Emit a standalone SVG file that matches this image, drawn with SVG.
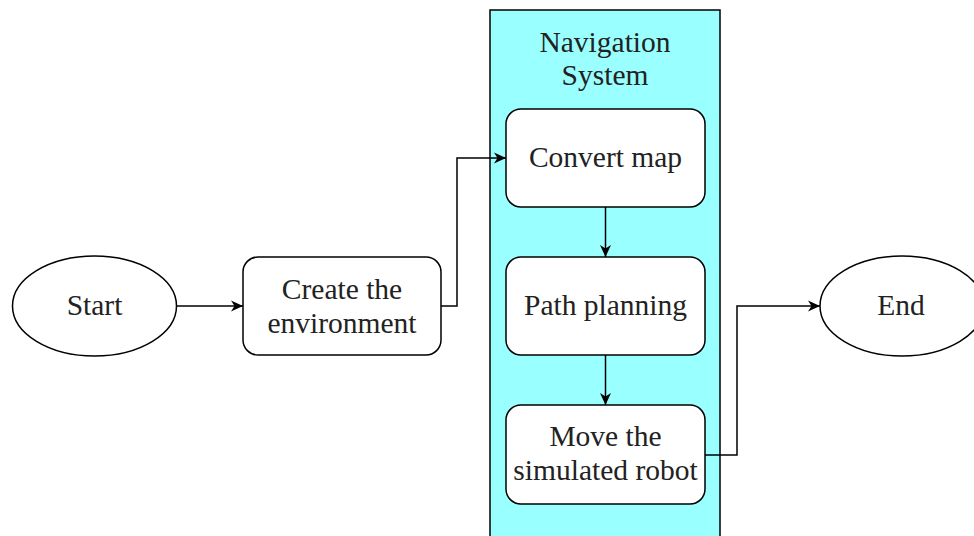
<svg xmlns="http://www.w3.org/2000/svg" width="974" height="536" viewBox="0 0 974 536">
  <defs>
    <marker id="arrow" viewBox="0 0 12 12" refX="12" refY="6" markerWidth="12" markerHeight="12" markerUnits="userSpaceOnUse" orient="auto">
      <path d="M0,0.5 L12,6 L0,11.5 L3.5,6 Z" fill="#000"/>
    </marker>
  </defs>
  <style>
    .box { fill: #fff; stroke: #000; stroke-width: 1.5; }
    .lane { fill: #99ffff; stroke: #000; stroke-width: 1.5; }
    .edge { fill: none; stroke: #000; stroke-width: 1.5; marker-end: url(#arrow); }
  </style>
  <rect width="974" height="536" fill="#fff"/>

  <g font-family="Liberation Serif, Times New Roman, serif" font-size="29.5" fill="#222" text-anchor="middle">
    <g id="navigation-system">
      <rect class="lane" x="490" y="10" width="230" height="530"/>
      <text x="605" y="52">Navigation</text>
      <text x="605" y="85">System</text>
    </g>

    <g id="start">
      <ellipse class="box" cx="94.5" cy="306" rx="82" ry="50"/>
      <text x="94.5" y="315">Start</text>
    </g>

    <g id="create-environment">
      <rect class="box" x="243" y="257" width="198" height="98" rx="15"/>
      <text x="342" y="299">Create the</text>
      <text x="342" y="333">environment</text>
    </g>

    <g id="convert-map">
      <rect class="box" x="506" y="109" width="199" height="98" rx="15"/>
      <text x="605.5" y="167">Convert map</text>
    </g>

    <g id="path-planning">
      <rect class="box" x="506" y="257" width="199" height="98" rx="15"/>
      <text x="605.5" y="315">Path planning</text>
    </g>

    <g id="move-robot">
      <rect class="box" x="506" y="405" width="199" height="99" rx="15"/>
      <text x="605.5" y="446">Move the</text>
      <text x="605.5" y="480">simulated robot</text>
    </g>

    <g id="end">
      <ellipse class="box" cx="902" cy="306" rx="82" ry="50"/>
      <text x="901" y="315">End</text>
    </g>
  </g>

  <g id="connectors">
    <path class="edge" d="M177,306 H243"/>
    <path class="edge" d="M441,306 H457 V158 H506"/>
    <path class="edge" d="M605.5,207 V257"/>
    <path class="edge" d="M605.5,355 V405"/>
    <path class="edge" d="M705,455 H737 V306 H820"/>
  </g>
</svg>
